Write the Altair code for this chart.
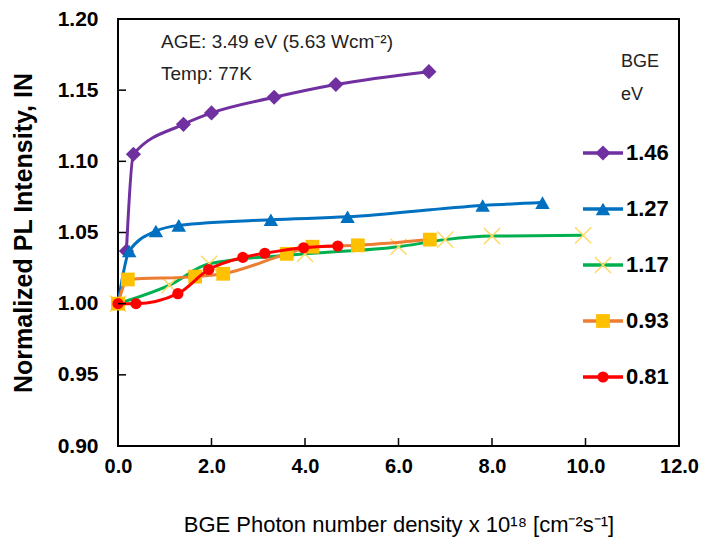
import altair as alt
import pandas as pd

# ---- data ----
x_146 = [0.18, 0.33, 1.40, 2.00, 3.34, 4.66, 6.65]
y_146 = [1.037, 1.105, 1.126, 1.134, 1.145, 1.154, 1.163]

x_127 = [0.0, 0.24, 0.81, 1.30, 3.27, 4.91, 7.80, 9.08]
y_127 = [1.000, 1.037, 1.051, 1.055, 1.059, 1.061, 1.069, 1.071]

x_117 = [0.0, 1.10, 1.95, 4.00, 6.00, 7.00, 8.00, 9.95]
y_117 = [1.000, 1.013, 1.028, 1.035, 1.040, 1.045, 1.0475, 1.048]

x_093 = [0.0, 0.21, 1.65, 2.25, 3.61, 4.16, 5.13, 6.67]
y_093 = [1.000, 1.017, 1.019, 1.021, 1.035, 1.040, 1.041, 1.045]

x_081 = [0.0, 0.385, 1.28, 1.94, 2.67, 3.14, 3.97, 4.70]
y_081 = [1.000, 1.000, 1.007, 1.024, 1.0325, 1.0354, 1.0393, 1.0405]

series_labels = ["1.46", "1.27", "1.17", "0.93", "0.81"]
x_ticks = [0, 2, 4, 6, 8, 10, 12]
y_ticks = [0.90, 0.95, 1.00, 1.05, 1.10, 1.15, 1.20]

annotation_lines = ["AGE: 3.49 eV (5.63 Wcm\u207b\u00b2)", "Temp: 77K"]
legend_title_lines = ["BGE", "eV"]

# ---- styles ----
W, H = 561, 427
FONT = "Liberation Sans, Arial, sans-serif"
X_PATH = "M-1,-1L1,1M-1,1L1,-1"
styles = {
    "1.46": dict(line="#7030A0", fill="#7030A0", shape="diamond", size=230, filled=True),
    "1.27": dict(line="#0070C0", fill="#0070C0", shape="triangle-up", size=210, filled=True),
    "1.17": dict(line="#00B050", fill="#FFD966", shape=X_PATH, size=260, filled=False),
    "0.93": dict(line="#ED7D31", fill="#FFC000", shape="square", size=190, filled=True),
    "0.81": dict(line="#FF0000", fill="#FF0000", shape="circle", size=125, filled=True),
}
data_xy = {
    "1.46": (x_146, y_146),
    "1.27": (x_127, y_127),
    "1.17": (x_117, y_117),
    "0.93": (x_093, y_093),
    "0.81": (x_081, y_081),
}

xs = alt.Scale(domain=[0, 12], nice=False, zero=False)
ys = alt.Scale(domain=[0.90, 1.20], nice=False, zero=False)

x_axis = alt.Axis(values=x_ticks, format=".1f", ticks=False, tickSize=0, domain=False, grid=False,
                  labelFlush=False,
                  labelFont=FONT, labelFontSize=20, labelFontWeight="bold", labelColor="black",
                  labelPadding=10,
                  title="BGE Photon number density x 10\u00b9\u2078 [cm\u207b\u00b2s\u207b\u00b9]",
                  titleFont=FONT, titleFontSize=22, titleFontWeight="normal", titleColor="black",
                  titlePadding=38)
y_axis = alt.Axis(values=y_ticks, format=".2f", ticks=False, tickSize=0, domain=False, grid=False,
                  labelFlush=False,
                  labelFont=FONT, labelFontSize=21, labelFontWeight="bold", labelColor="black",
                  labelPadding=20,
                  title="Normalized PL Intensity, IN",
                  titleFont=FONT, titleFontSize=25, titleFontWeight="bold",
                  titleColor="black", titlePadding=21)


def X(field):
    return alt.X(field, scale=xs, axis=x_axis)


def Y(field):
    return alt.Y(field, scale=ys, axis=y_axis)


layers = []
for lab in series_labels:
    xv, yv = data_xy[lab]
    st = styles[lab]
    df = pd.DataFrame({"x": xv, "y": yv, "bge": lab})
    line = alt.Chart(df).mark_line(color=st["line"], strokeWidth=3, interpolate="monotone").encode(
        x=X("x:Q"), y=Y("y:Q"))
    if st["filled"]:
        pts = alt.Chart(df).mark_point(shape=st["shape"], size=st["size"], filled=True,
                                       fill=st["fill"], opacity=1, strokeWidth=0).encode(
            x=X("x:Q"), y=Y("y:Q"))
    else:
        pts = alt.Chart(df).mark_point(shape=st["shape"], size=st["size"], filled=False,
                                       stroke=st["fill"], strokeWidth=1.5, opacity=1).encode(
            x=X("x:Q"), y=Y("y:Q"))
    layers += [line, pts]

# inward tick marks
xt = alt.Chart(pd.DataFrame({"x": x_ticks})).mark_rule(color="black", strokeWidth=1.5).encode(
    x=X("x:Q"), y=alt.value(H), y2=alt.value(H - 8))
yt = alt.Chart(pd.DataFrame({"y": y_ticks})).mark_rule(color="black", strokeWidth=1.5).encode(
    y=Y("y:Q"), x=alt.value(0), x2=alt.value(8))
layers += [xt, yt]

# annotation text
for i, t in enumerate(annotation_lines):
    layers.append(alt.Chart(pd.DataFrame({"t": [t]})).mark_text(
        align="left", baseline="middle", font=FONT, fontSize=19, color="#222222").encode(
        text="t:N", x=alt.value(43), y=alt.value(23 + 32 * i)))

# legend title
for i, t in enumerate(legend_title_lines):
    layers.append(alt.Chart(pd.DataFrame({"t": [t]})).mark_text(
        align="left", baseline="middle", font=FONT, fontSize=18, color="#222222").encode(
        text="t:N", x=alt.value(503), y=alt.value(43 + 33 * i)))

# legend entries
for i, lab in enumerate(series_labels):
    st = styles[lab]
    ly = 134 + 56 * i
    d = pd.DataFrame({"t": [lab]})
    layers.append(alt.Chart(d).mark_rule(color=st["line"], strokeWidth=3.5).encode(
        x=alt.value(465), x2=alt.value(505), y=alt.value(ly)))
    if st["filled"]:
        layers.append(alt.Chart(d).mark_point(shape=st["shape"], size=st["size"], filled=True,
                                              fill=st["fill"], opacity=1, strokeWidth=0).encode(
            x=alt.value(485), y=alt.value(ly)))
    else:
        layers.append(alt.Chart(d).mark_point(shape=st["shape"], size=st["size"], filled=False,
                                              stroke=st["fill"], strokeWidth=1.5, opacity=1).encode(
            x=alt.value(485), y=alt.value(ly)))
    layers.append(alt.Chart(d).mark_text(align="left", baseline="middle", font=FONT,
                                         fontSize=22, fontWeight="bold", color="black").encode(
        text="t:N", x=alt.value(508), y=alt.value(ly)))

chart = alt.layer(*layers).properties(
    width=W, height=H,
    background="white",
    autosize=alt.AutoSizeParams(type="none"),
    padding={"left": 110, "top": 11, "right": 20, "bottom": 94},
).configure_view(stroke="black", strokeWidth=2)

chart.save("out.html", embed_options={"renderer": "svg", "actions": False})
